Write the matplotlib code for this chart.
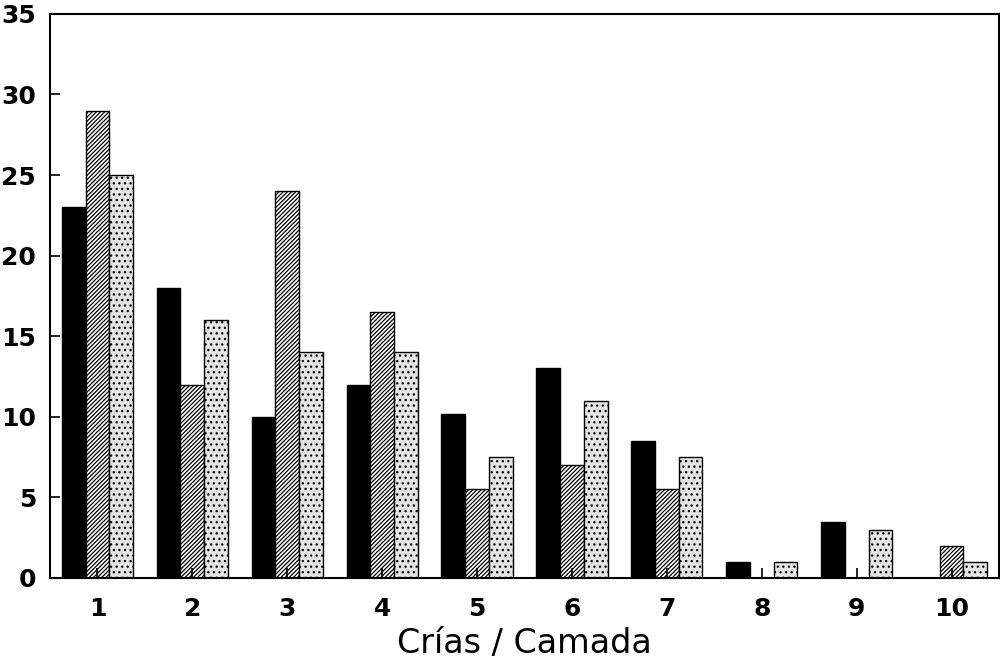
import matplotlib
matplotlib.use("Agg")
import matplotlib.pyplot as plt
import numpy as np

plt.rcParams['font.family'] = ['DejaVu Sans']
plt.rcParams['hatch.linewidth'] = 0.9

categories = ["1", "2", "3", "4", "5", "6", "7", "8", "9", "10"]
serie_negra = [23, 18, 10, 12, 10.2, 13, 8.5, 1, 3.5, 0]
serie_rayada = [29, 12, 24, 16.5, 5.5, 7, 5.5, 0, 0, 2]
serie_punteada = [25, 16, 14, 14, 7.5, 11, 7.5, 1, 3, 1]

x = np.arange(1, len(categories) + 1)
w = 0.25

fig = plt.figure(figsize=(10, 6.62), dpi=100)
ax = fig.add_axes([0.05, 0.127, 0.949, 0.852])

def barras(pos, vals, **kw):
    pos = np.asarray(pos)
    vals = np.asarray(vals)
    m = vals > 0
    ax.bar(pos[m], vals[m], width=w, edgecolor='black', linewidth=1.0, **kw)

barras(x - w, serie_negra, color='black')
barras(x, serie_rayada, facecolor='white', hatch='////////')
barras(x + w, serie_punteada, facecolor='#e4e4e4', hatch='...')

ax.set_xlim(0.5, 10.5)
ax.set_ylim(0, 35)
ax.set_yticks(range(0, 36, 5))
ax.set_xticks(x)
ax.set_xticklabels(categories)
ax.tick_params(axis='both', direction='in', length=7, width=1.2,
               labelsize=18, pad=10)
for lab in ax.get_xticklabels() + ax.get_yticklabels():
    lab.set_fontweight('bold')
ax.tick_params(axis='x', pad=14)
for s in ax.spines.values():
    s.set_linewidth(1.5)

ax.set_xlabel("Crías / Camada", fontsize=24, labelpad=4)

fig.savefig("out.png", dpi=100)
